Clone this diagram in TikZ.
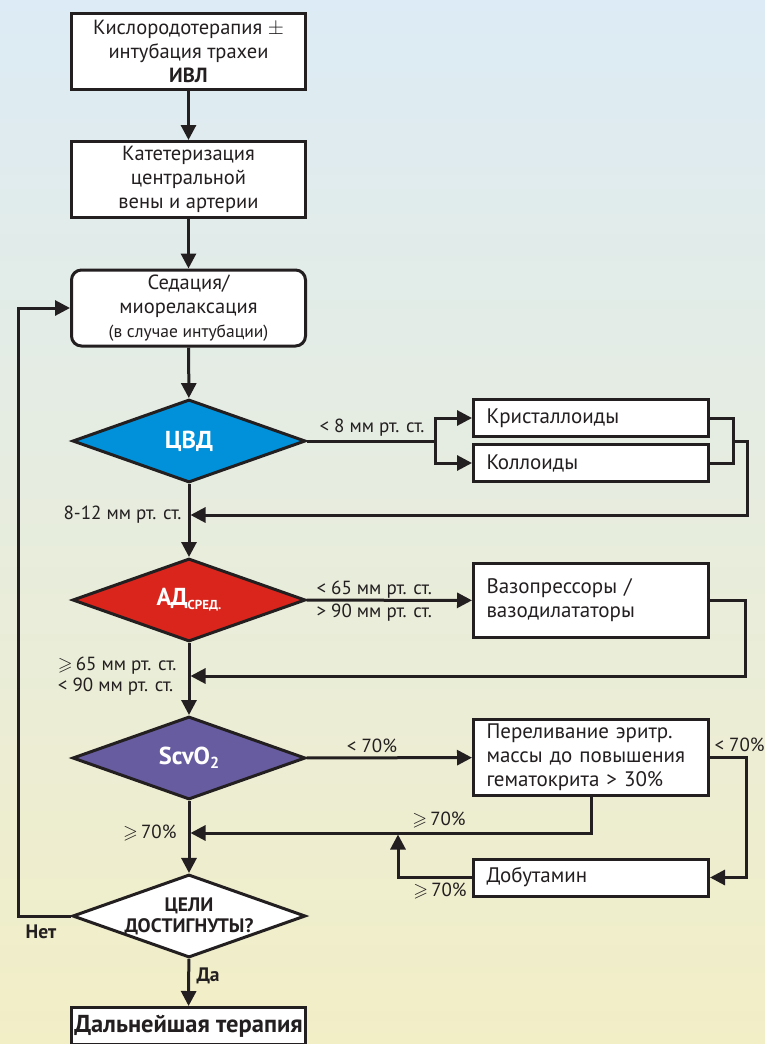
\documentclass[tikz,border=0pt]{standalone}
\usepackage{fontspec}
\usepackage{amssymb}
\setmainfont{PT Sans}
\usetikzlibrary{shapes.geometric,arrows.meta}
\definecolor{bgtop}{RGB}{220,235,245}
\definecolor{bgbot}{RGB}{242,238,198}
\definecolor{cvdblue}{RGB}{0,145,218}
\definecolor{adred}{RGB}{218,37,29}
\definecolor{scvpurple}{RGB}{104,92,160}
\definecolor{ink}{RGB}{35,31,32}
\newcommand{\gesl}{$\geqslant$}
\begin{document}
\begin{tikzpicture}[x=1pt,y=-1pt,>={Triangle[length=15pt,width=15pt]},
    color=ink, line width=3pt,
    box/.style={draw=ink,fill=white,minimum width=234pt,minimum height=76pt,align=center,inner sep=0pt,font=\fontsize{20.5}{24}\selectfont},
    sidebox/.style={draw=ink,fill=white,minimum height=37pt,text width=209pt,align=left,inner xsep=13pt,inner ysep=0pt,font=\fontsize{21}{24}\selectfont},
    test/.style={diamond,aspect=2.8,draw=ink,minimum width=233pt,minimum height=83pt,inner sep=0pt,align=center,text=white,font=\bfseries\fontsize{24.5}{26}\selectfont},
    lbl/.style={inner sep=0pt,font=\fontsize{19}{21}\selectfont}]
\useasboundingbox (0,0) rectangle (765,1044);
\shade[top color=bgtop,bottom color=bgbot] (0,0) rectangle (765,1044);

% main column
\node[box] (oxy) at (188.5,51.5) {Кислородотерапия $\pm$\\интубация трахеи\\\textbf{ИВЛ}};
\node[box] (cath) at (188.5,179.5) {Катетеризация\\центральной\\вены и артерии};
\node[box,rounded corners=10pt] (sed) at (188.5,308) {Седация/\\миорелаксация\\{\fontsize{17.5}{19}\selectfont (в случае интубации)}};
\node[test,fill=cvdblue] (cvd) at (189,441) {ЦВД};
\node[test,fill=adred] (ad) at (189,600) {АД\raisebox{-0.3ex}{\fontsize{13}{13}\selectfont СРЕД.}};
\node[test,fill=scvpurple] (scv) at (189,758) {ScvO\raisebox{-0.35ex}{\fontsize{16}{16}\selectfont 2}};
\node[test,fill=white,text=ink,font=\bfseries\fontsize{19.5}{21}\selectfont] (goal) at (189,916) {ЦЕЛИ\\ДОСТИГНУТЫ?};
\node[box,minimum height=37pt,font=\bfseries\fontsize{24.5}{26}\selectfont] (fin) at (188.5,1026) {Дальнейшая терапия};

% right column
\node[sidebox] (kris) at (591,418) {Кристаллоиды};
\node[sidebox] (koll) at (591,463) {Коллоиды};
\node[sidebox,minimum height=74pt] (vaso) at (591,600.5) {Вазопрессоры /\\вазодилататоры};
\node[sidebox,minimum height=76pt] (trans) at (591,757.5) {Переливание эритр.\\массы до повышения\\гематокрита > 30\%};
\node[sidebox] (dobu) at (591,877.5) {Добутамин};

\coordinate (split) at (435,441);
\coordinate (jn) at (733,441);
\coordinate (cvdr) at (747,441);
\coordinate (cvdin) at (190.5,515);
\coordinate (adr) at (745,600.5);
\coordinate (adin) at (190.5,676);
\coordinate (trr) at (746,757.5);
\coordinate (scvin) at (190.5,833);
\coordinate (dobin) at (398,834.5);
\coordinate (loop) at (18,916);

\draw[->] (oxy) -- (cath);
\draw[->] (cath) -- (sed);
\draw[->] (sed) -- (cvd);
\draw (cvd.east) -- (split);
\draw[->] (split) |- (kris);
\draw[->] (split) |- (koll);
\draw (kris.east) -| (jn) |- (koll.east);
\draw[->] (jn) -- (cvdr) |- (cvdin);
\draw[->] (cvd) -- (ad);
\draw[->] (ad) -- (vaso);
\draw[->] (vaso.east) -- (adr) |- (adin);
\draw[->] (ad) -- (scv);
\draw[->] (scv) -- (trans);
\draw[->] (trans.east) -- (trr) |- (dobu.east);
\draw[->] (trans.south) |- (scvin);
\draw[->] (dobu.west) -| (dobin);
\draw[->] (scv) -- (goal);
\draw[->] (goal.west) -- (loop) |- (sed.west);
\draw[->] (goal) -- (fin);

% labels
\node[lbl] (lcvd) at (372,428) {< 8 мм рт. ст.};
\node[lbl,anchor=east] (lcvdok) at (183,515) {8-12 мм рт. ст.};
\node[lbl,anchor=west] (lad1) at (315,590) {< 65 мм рт. ст.};
\node[lbl,anchor=west] (lad2) at (315,613) {> 90 мм рт. ст.};
\node[lbl,anchor=east,align=left] (ladok) at (178,676) {\gesl\,65 мм рт. ст.\\< 90 мм рт. ст.};
\node[lbl] (lscv) at (372,746) {< 70\%};
\node[lbl,anchor=west] (ltr) at (713,745) {< 70\%};
\node[lbl] (ltrok) at (439,820) {\gesl\,70\%};
\node[lbl,anchor=east] (lscvok) at (178,833) {\gesl\,70\%};
\node[lbl] (ldobok) at (440,891) {\gesl\,70\%};
\node[lbl,font=\bfseries\fontsize{19.5}{21}\selectfont] (lno) at (41,932) {Нет};
\node[lbl,anchor=west,font=\bfseries\fontsize{19.5}{21}\selectfont] (lyes) at (195,976) {Да};
\end{tikzpicture}
\end{document}
